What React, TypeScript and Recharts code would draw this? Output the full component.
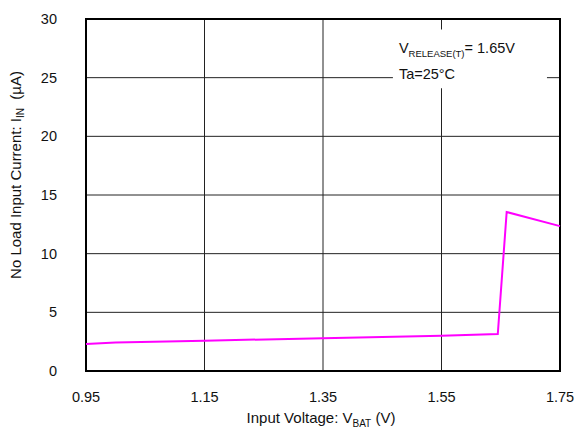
import { LineChart, Line, XAxis, YAxis, CartesianGrid, ReferenceArea } from 'recharts';

const voltages = [0.95, 1.0, 1.15, 1.35, 1.55, 1.645, 1.66, 1.75];
const currents = [2.3, 2.42, 2.58, 2.8, 3.0, 3.15, 13.55, 12.35];
const xTicks = [0.95, 1.15, 1.35, 1.55, 1.75];
const yTicks = [0, 5, 10, 15, 20, 25, 30];

const data = voltages.map((v, i) => ({ v, i: currents[i] }));

const FONT = '"Liberation Sans", Arial, sans-serif';

function XTick({ x, y, payload }: any) {
  return (
    <text x={x} y={y + 23} textAnchor="middle" fontSize={14.5} fill="#111" fontFamily={FONT}>
      {payload.value.toFixed(2)}
    </text>
  );
}

function YTick({ x, y, payload }: any) {
  return (
    <text x={x - 21} y={y + 5} textAnchor="end" fontSize={14.5} fill="#111" fontFamily={FONT}>
      {payload.value}
    </text>
  );
}

function NoteLabel({ viewBox }: any) {
  const { x, y } = viewBox;
  return (
    <g fontFamily={FONT} fill="#111">
      <text x={x + 6} y={y + 23} fontSize={14.5}>
        V<tspan fontSize={9.5} dy={4}>RELEASE(T)</tspan>
        <tspan dy={-4}>= 1.65V</tspan>
      </text>
      <text x={x + 6} y={y + 49} fontSize={14.5}>Ta=25°C</text>
    </g>
  );
}

export default function App() {
  return (
    <div style={{ position: 'absolute', left: 0, top: 0, width: 579, height: 432, background: '#fff' }}>
      <LineChart width={579} height={432} data={data} margin={{ top: 19, right: 19, bottom: 0, left: 0 }}>
        <CartesianGrid stroke="#222" strokeWidth={1} />
        <XAxis
          dataKey="v"
          type="number"
          domain={[0.95, 1.75]}
          ticks={xTicks}
          tick={<XTick />}
          tickLine={false}
          axisLine={false}
          height={61}
          interval={0}
        />
        <YAxis
          type="number"
          domain={[0, 30]}
          ticks={yTicks}
          tick={<YTick />}
          tickLine={false}
          axisLine={false}
          width={86}
          interval={0}
        />
        <ReferenceArea
          x1={1.468}
          x2={1.728}
          y1={24.1}
          y2={29.1}
          fill="#fff"
          fillOpacity={1}
          stroke="none"
          label={<NoteLabel />}
        />
        <ReferenceArea
          x1={0.95}
          x2={1.75}
          y1={0}
          y2={30}
          fill="none"
          stroke="#000"
          strokeWidth={2}
        />
        <Line
          dataKey="i"
          type="linear"
          stroke="#ff00ff"
          strokeWidth={2}
          dot={false}
          isAnimationActive={false}
        />
      </LineChart>
      <svg
        width={579}
        height={432}
        style={{ position: 'absolute', left: 0, top: 0, pointerEvents: 'none' }}
      >
        <text
          x={17}
          y={175}
          transform="rotate(-90 17 175)"
          textAnchor="middle"
          fontSize={15}
          fill="#111"
          fontFamily={FONT}
          dominantBaseline="middle"
        >
          No Load Input Current: I<tspan fontSize={10} dy={4}>IN</tspan>
          <tspan dy={-4}>{'\u00a0\u00a0(µA)'}</tspan>
        </text>
        <text x={321} y={423} textAnchor="middle" fontSize={15} fill="#111" fontFamily={FONT}>
          Input Voltage: V<tspan fontSize={10} dy={4}>BAT</tspan>
          <tspan dy={-4}> (V)</tspan>
        </text>
      </svg>
    </div>
  );
}
